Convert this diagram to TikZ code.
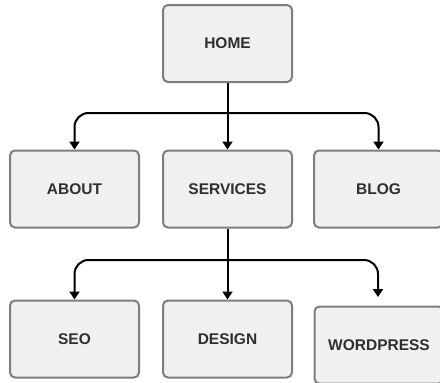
\documentclass[tikz,border=0pt]{standalone}
\usepackage{fontspec}
\setmainfont{Liberation Sans}
\usepackage{xcolor}
\usepackage{tikz}
\usetikzlibrary{arrows.meta,positioning}
\definecolor{boxfill}{HTML}{F0F0F0}
\definecolor{boxline}{HTML}{7E7E7E}
\definecolor{boxtext}{HTML}{2F2F2F}
\tikzset{
  pagina/.style={rectangle,rounded corners=5pt,fill=boxfill,draw=boxline,line width=2pt,
    minimum width=129pt,minimum height=77pt,inner sep=0pt,
    text=boxtext,font=\fontsize{15.5}{18}\selectfont\bfseries},
  enlace/.style={-{Triangle[width=10pt,length=8pt]},line width=2pt,black,rounded corners=14pt}
}
\begin{document}
\begin{tikzpicture}[x=1pt,y=-1pt]
\useasboundingbox[fill=white] (0,0) rectangle (440,383);
% nivel 1
\node[pagina] (home) at (227.5,43.5) {HOME};
% nivel 2
\node[pagina] (about) at (74.5,189) {ABOUT};
\node[pagina] (services) at (227.5,189) {SERVICES};
\node[pagina] (blog) at (378.5,189) {BLOG};
% nivel 3
\node[pagina] (seo) at (74.5,339) {SEO};
\node[pagina] (design) at (227.5,339) {DESIGN};
\node[pagina] (wordpress) at (379,345) {WORDPRESS};
% puntos de reparto
\coordinate (reparto1) at (227.5,113);
\coordinate (reparto2) at (227.5,260);
\coordinate (finwp) at (378,297);
% enlaces
\draw[enlace] (home) -- (services);
\draw[enlace] (reparto1) -| (about.north);
\draw[enlace] (reparto1) -| (blog.north);
\draw[enlace] (services) -- (design);
\draw[enlace] (reparto2) -| (seo.north);
\draw[enlace] (reparto2) -| (finwp);
\end{tikzpicture}
\end{document}
